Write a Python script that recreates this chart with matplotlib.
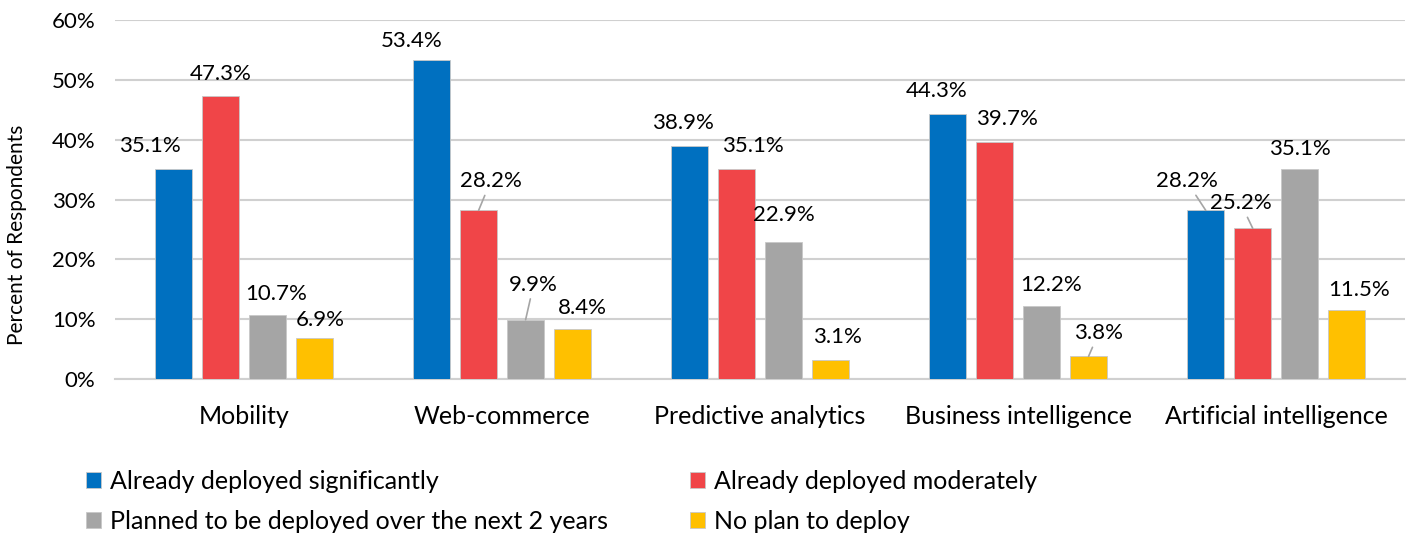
import matplotlib
matplotlib.use("Agg")
import matplotlib.pyplot as plt
import numpy as np

categories = ["Mobility", "Web-commerce", "Predictive analytics", "Business intelligence", "Artificial intelligence"]
series_names = ["Already deployed significantly", "Already deployed moderately",
                "Planned to be deployed over the next 2 years", "No plan to deploy"]
sig = [35.1, 53.4, 38.9, 44.3, 28.2]
mod = [47.3, 28.2, 35.1, 39.7, 25.2]
planned = [10.7, 9.9, 22.9, 12.2, 35.1]
noplan = [6.9, 8.4, 3.1, 3.8, 11.5]
yticks = [0, 10, 20, 30, 40, 50, 60]

colors = ["#0070C0", "#F04548", "#A5A5A5", "#FFC000"]
# label offsets in pixels (dx, dy) per series (rows) and category (columns); True = leader line
label_off = [
    [(-24, 23, False), (-20, 19, False), (-7, 23, False), (-11, 23, False), (-19, 29, True)],
    [(0, 22, False), (12, 29, True), (16, 23, False), (12, 23, False), (-12, 25, True)],
    [(9, 21, False), (8, 35, True), (0, 27, False), (9, 21, False), (0, 20, False)],
    [(6, 18, False), (10, 21, False), (7, 23, False), (10, 23, True), (12, 20, False)],
]

plt.rcParams['font.family'] = ['Lato', 'DejaVu Sans']

fig = plt.figure(figsize=(14.1, 5.33), dpi=100)
ax = fig.add_axes([0.0816, 0.289, 0.915, 0.673])

x = np.arange(len(categories))
step = 0.182
width = 0.143
allvals = [sig, mod, planned, noplan]
handles = []
for i, vals in enumerate(allvals):
    pos = x + (i - 1.5) * step
    b = ax.bar(pos, vals, width, color=colors[i], edgecolor="#C8C8C8", linewidth=0.6,
               label=series_names[i], zorder=3)
    handles.append(b)
    for j, (px, v) in enumerate(zip(pos, vals)):
        dx, dy, lead = label_off[i][j]
        kw = {}
        if lead:
            kw = dict(arrowprops=dict(arrowstyle='-', color='#A5A5A5', lw=1.2,
                                      shrinkA=1, shrinkB=0))
        ax.annotate(f"{v:.1f}%", xy=(px, v), xytext=(dx, dy),
                    textcoords='offset pixels', ha='center', va='center',
                    fontsize=16, color='black', zorder=4, **kw)

ax.set_xlim(-0.5, len(categories) - 0.5)
ax.set_ylim(0, 60)
ax.set_yticks(yticks)
ax.set_yticklabels([f"{t}%" for t in yticks], fontsize=16)
ax.set_xticks(x)
ax.set_xticklabels(categories, fontsize=18)
ax.tick_params(axis='both', length=0)
ax.tick_params(axis='x', pad=19)
ax.tick_params(axis='y', pad=14)
ax.yaxis.grid(True, color='#D0D0D0', linewidth=1.5, zorder=0)
ax.set_axisbelow(True)
for s in ['top', 'right', 'left']:
    ax.spines[s].set_visible(False)
ax.spines['bottom'].set_color('#D0D0D0')
ax.spines['bottom'].set_linewidth(1.5)

fig.text(17 / 1410, 1 - 235 / 533, "Percent of Respondents", rotation=90,
         ha='center', va='center', fontsize=15)

order = [0, 2, 1, 3]
fig.legend([handles[k] for k in order], [series_names[k] for k in order],
           ncol=2, loc='upper left', bbox_to_anchor=(0.061, 0.118),
           frameon=False, fontsize=18, handlelength=0.6, handleheight=0.6,
           handletextpad=0.35, columnspacing=3.3, labelspacing=0.67,
           borderaxespad=0, borderpad=0)

fig.savefig("out.png", dpi=100)
